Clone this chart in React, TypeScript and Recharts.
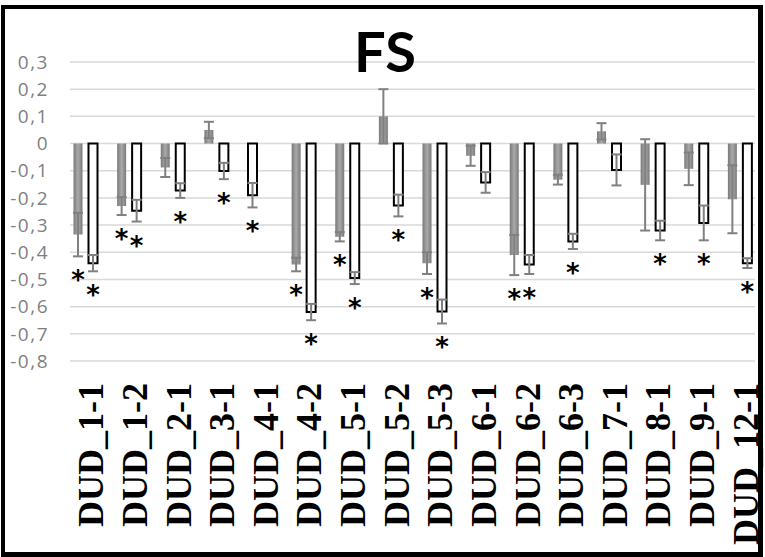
import { BarChart, Bar, XAxis, YAxis, CartesianGrid, ErrorBar, LabelList, Cell } from "recharts";

const categories = [
  "DUD_1-1", "DUD_1-2", "DUD_2-1", "DUD_3-1", "DUD_4-1", "DUD_4-2", "DUD_5-1", "DUD_5-2",
  "DUD_5-3", "DUD_6-1", "DUD_6-2", "DUD_6-3", "DUD_7-1", "DUD_8-1", "DUD_9-1", "DUD_12-1",
];

// grey series (left bar of each pair)
const greyValues = [-0.335, -0.23, -0.088, 0.05, -0.19, -0.445, -0.343, 0.1, -0.44, -0.045, -0.41, -0.133, 0.045, -0.152, -0.093, -0.205];
const greyErrors = [0.08, 0.033, 0.035, 0.03, 0.045, 0.025, 0.017, 0.1, 0.04, 0.037, 0.074, 0.018, 0.03, 0.168, 0.06, 0.125];
const greyStars = [true, true, false, false, true, true, true, false, true, false, true, false, false, false, false, false];

// open (white) series (right bar of each pair)
const whiteValues = [-0.44, -0.247, -0.173, -0.101, null, -0.62, -0.495, -0.228, -0.618, -0.143, -0.445, -0.36, -0.097, -0.32, -0.292, -0.44];
const whiteErrors = [0.03, 0.04, 0.027, 0.03, null, 0.03, 0.022, 0.04, 0.044, 0.038, 0.035, 0.028, 0.057, 0.036, 0.064, 0.018];
const whiteStars = [true, true, true, true, false, true, true, true, true, false, true, true, false, true, true, true];

// categories whose left bar is drawn open in the original
const openLeft = ["DUD_4-1"];

const yTicks = [0.3, 0.2, 0.1, 0, -0.1, -0.2, -0.3, -0.4, -0.5, -0.6, -0.7, -0.8];

const data = categories.map((name, i) => ({
  name,
  grey: greyValues[i],
  greyErr: greyErrors[i],
  white: whiteValues[i],
  whiteErr: whiteErrors[i],
}));

const fmt = (v: number) => (v === 0 ? "0" : v.toFixed(1).replace(".", ","));

function CategoryTick({ x, payload }: any) {
  return (
    <text
      transform={`translate(${x + 6},383) rotate(-90)`}
      textAnchor="end"
      dominantBaseline="central"
      fontFamily="'Liberation Serif', serif"
      fontWeight="bold"
      fontSize={36}
      fill="#000"
    >
      {payload.value}
    </text>
  );
}

// label list is keyed by category name, so skipped (null) bars don't shift the lookup
function starLabel(values: (number | null)[], errors: (number | null)[], stars: boolean[]) {
  return (props: any) => {
    const vb = props.viewBox ?? props;
    const i = categories.indexOf(props.value);
    const value = values[i];
    if (i < 0 || value == null || !stars[i]) return null;
    const x = vb.x ?? props.x;
    const y = vb.y ?? props.y;
    const w = vb.width ?? props.width;
    const h = vb.height ?? props.height;
    const ppu = Math.abs(h) / Math.abs(value);
    const end = value < 0 ? Math.max(y, y + h) : Math.min(y, y + h);
    const cap = end + (errors[i] ?? 0) * ppu;
    return (
      <text
        x={x + w / 2}
        y={cap + 18}
        dy={15}
        textAnchor="middle"
        fontFamily="'DejaVu Sans', sans-serif"
        fontWeight="bold"
        fontSize={26}
        fill="#000"
      >
        *
      </text>
    );
  };
}

export default function App() {
  return (
    <div style={{ position: "absolute", left: 0, top: 0, width: 765, height: 557, background: "#fff", overflow: "hidden" }}>
      <BarChart
        width={765}
        height={557}
        data={data}
        margin={{ top: 62, right: 10, left: 0, bottom: 0 }}
        barGap={6}
      >
        <defs>
          <linearGradient id="greyFill" x1="0" y1="0" x2="1" y2="0">
            <stop offset="0%" stopColor="#7a7a7a" />
            <stop offset="50%" stopColor="#a9a9a9" />
            <stop offset="100%" stopColor="#7a7a7a" />
          </linearGradient>
        </defs>
        <CartesianGrid vertical={false} stroke="#d9d9d9" strokeWidth={1.5} />
        <XAxis
          dataKey="name"
          interval={0}
          axisLine={false}
          tickLine={false}
          height={196}
          padding={{ left: -6.5, right: -6.5 }}
          tick={<CategoryTick />}
        />
        <YAxis
          domain={[-0.8, 0.3]}
          ticks={yTicks}
          interval={0}
          width={70}
          axisLine={false}
          tickLine={false}
          tickSize={0}
          tickMargin={21}
          tickFormatter={fmt}
          tick={{ fontSize: 19, fill: "#7f7f7f", fontFamily: "'Open Sans', sans-serif", letterSpacing: 1.5 }}
        />
        <Bar dataKey="grey" barSize={9} fill="url(#greyFill)" isAnimationActive={false}>
          {data.map((d) =>
            openLeft.includes(d.name) ? (
              <Cell key={d.name} fill="#fff" stroke="#000" strokeWidth={2} />
            ) : (
              <Cell key={d.name} fill="url(#greyFill)" />
            )
          )}
          <ErrorBar dataKey="greyErr" width={5} stroke="#808080" strokeWidth={2} direction="y" />
          <LabelList dataKey="name" content={starLabel(greyValues, greyErrors, greyStars)} />
        </Bar>
        <Bar dataKey="white" barSize={9} fill="#fff" stroke="#000" strokeWidth={2} isAnimationActive={false}>
          <ErrorBar dataKey="whiteErr" width={5} stroke="#808080" strokeWidth={2} direction="y" />
          <LabelList dataKey="name" content={starLabel(whiteValues, whiteErrors, whiteStars)} />
        </Bar>
      </BarChart>
      <svg width={765} height={557} style={{ position: "absolute", left: 0, top: 0, pointerEvents: "none" }}>
        <text x={385} y={72} textAnchor="middle" fontFamily="Lato, sans-serif" fontWeight="bold" fontSize={56} fill="#000">
          FS
        </text>
      </svg>
      <div
        style={{
          position: "absolute",
          left: 1,
          top: 5,
          width: 762,
          height: 552,
          borderStyle: "solid",
          borderColor: "#000",
          borderWidth: "4px 5px 5px 4px",
          boxSizing: "border-box",
          pointerEvents: "none",
        }}
      />
    </div>
  );
}
